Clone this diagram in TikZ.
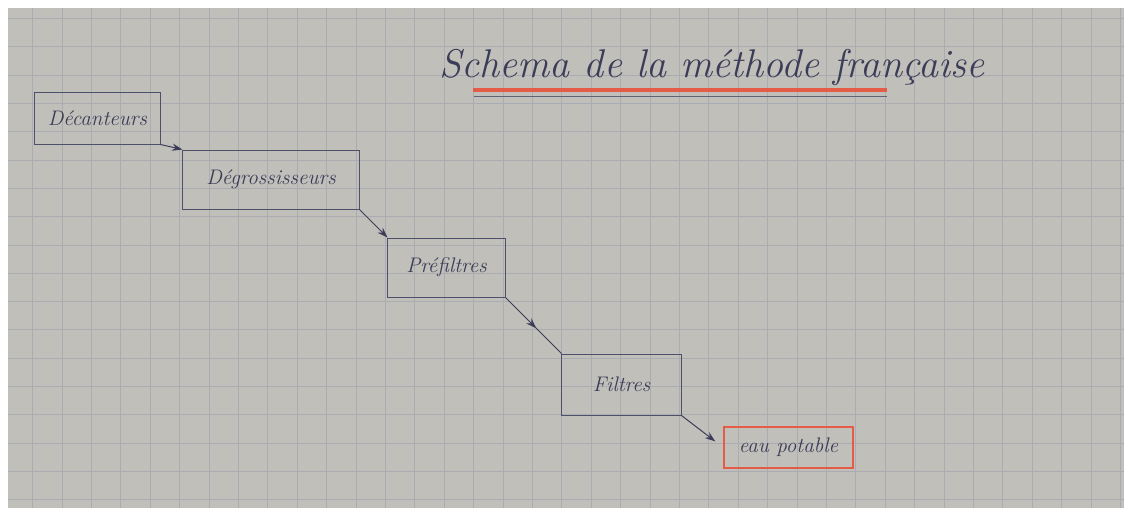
\documentclass[tikz,border=0pt]{standalone}
\usepackage{tikz}
\usetikzlibrary{arrows.meta, decorations.markings}
\definecolor{paper}{RGB}{193,191,185}
\definecolor{gridc}{RGB}{171,172,178}
\definecolor{ink}{RGB}{58,60,88}
\definecolor{redpen}{RGB}{228,92,72}
\tikzset{
  gridln/.style  ={draw=gridc, line width=0.5pt},
  stagebox/.style={draw=ink!90, rectangle, inner sep=0pt, line width=0.7pt, text=ink,
                   font=\itshape\fontsize{15}{15}\selectfont},
  outbox/.style  ={stagebox, draw=redpen, line width=1.1pt},
  flow/.style    ={-{Stealth[length=2.6mm, width=1.8mm]}, draw=ink, line width=0.7pt},
  midflow/.style ={draw=ink, line width=0.7pt, postaction={decorate},
                   decoration={markings, mark=at position 0.55 with {\arrow[ink]{Stealth[length=2.6mm, width=1.8mm]}}}},
  ttl/.style     ={text=ink, font=\itshape\fontsize{28.5}{28.5}\selectfont},
}
\begin{document}
\begin{tikzpicture}[x=0.025cm, y=-0.025cm]
  \useasboundingbox (0,0) rectangle (1134,508);
  % paper and squares
  \fill[white] (0,0) rectangle (1134,508);
  \fill[paper] (8,8) rectangle (1124,508);
  \foreach \gx in {0,...,37}
    \draw[gridln] ({32.6+29.4*\gx},8) -- ++(0,500);
  \foreach \gy in {0,...,17}
    \draw[gridln] (8,{18.5+28.3*\gy}) -- ++(1116,0);

  % title, underlined red and blue
  \node[ttl] (title) at (712,67) {Schema de la méthode française};
  \draw[redpen, line width=2.2pt] (473,90) -- (887,90);
  \draw[ink!80, line width=0.7pt] (474,96) -- (887,96);

  % stages, stepping down to the right
  \node[stagebox, minimum width=3.125cm, minimum height=1.3cm]   (dec) at (97.5,118)  {Décanteurs};
  \node[stagebox, minimum width=4.4cm,   minimum height=1.475cm] (deg) at (271,179.5) {Dégrossisseurs};
  \node[stagebox, minimum width=2.925cm, minimum height=1.475cm] (pre) at (446.5,267.5) {Préfiltres};
  \node[stagebox, minimum width=2.975cm, minimum height=1.525cm] (fil) at (621.5,384.5) {Filtres};
  \node[outbox,   minimum width=3.225cm, minimum height=1.025cm] (eau) at (788.5,447.5) {eau potable};

  % corner to corner
  \draw[flow] (dec.south east) -- (deg.north west);
  \draw[flow] (deg.south east) -- (pre.north west);
  \draw[midflow] (pre.south east) -- (fil.north west);
  \draw[flow, shorten >=2.5mm] (fil.south east) -- (eau.west);
\end{tikzpicture}
\end{document}
